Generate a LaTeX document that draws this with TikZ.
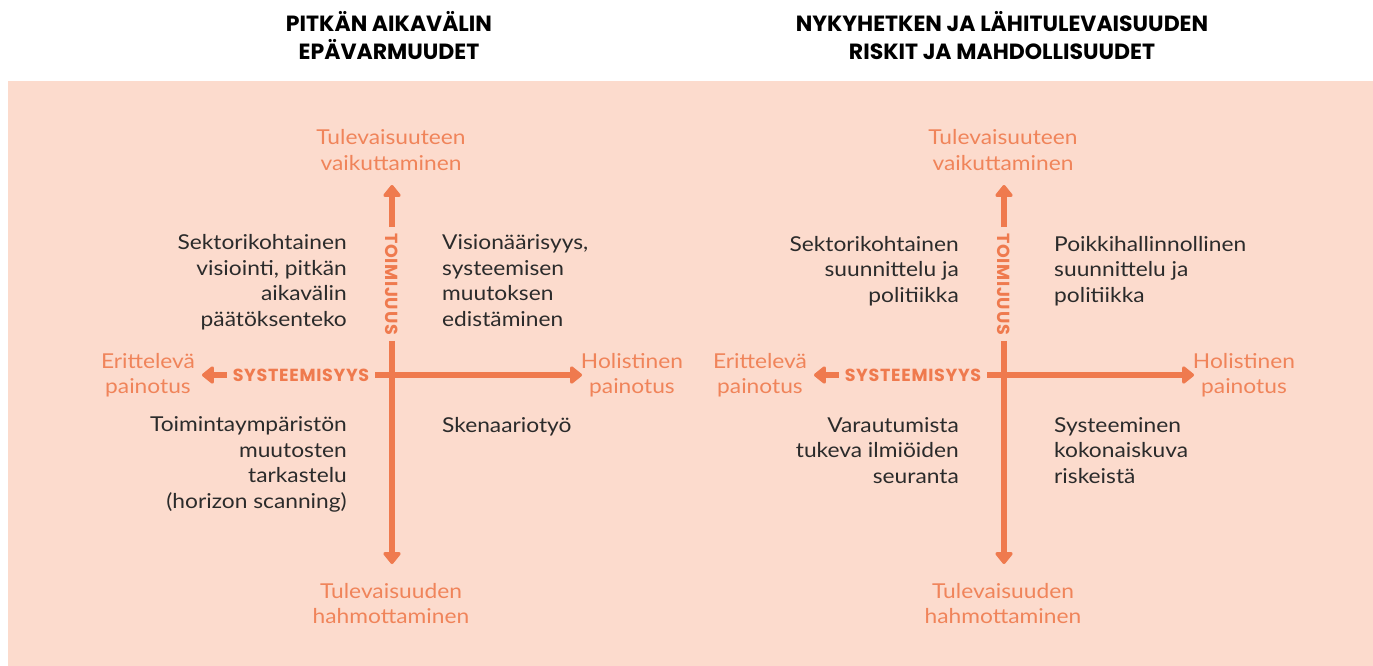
\documentclass[tikz,border=0pt]{standalone}
\usepackage{fontspec}
\setmainfont{Lato}[FakeStretch=1.11]
\newfontfamily\heavy{Poppins}
\newfontfamily\heavysp{Poppins}[LetterSpace=4]
\usetikzlibrary{arrows.meta}
\definecolor{bgc}{HTML}{FCDBCD}
\definecolor{arrowc}{HTML}{EF7A4E}
\definecolor{labc}{HTML}{F0845A}
\definecolor{txtc}{HTML}{2B2B2B}
\tikzset{
  title/.style={font=\heavy\bfseries\fontsize{22}{27.5}\selectfont, align=center, inner sep=0pt, anchor=base, text=black},
  lab/.style={font=\fontsize{20.5}{25}\selectfont, align=center, inner sep=0pt, anchor=base, text=labc},
  qr/.style={font=\fontsize{20.5}{25.5}\selectfont, align=right, inner sep=0pt, anchor=base east, text=txtc},
  ql/.style={font=\fontsize{20.5}{25.5}\selectfont, align=left, inner sep=0pt, anchor=base west, text=txtc},
  axl/.style={font=\heavysp\bfseries\fontsize{17.5}{20}\selectfont, inner sep=6pt, outer sep=0pt, text=arrowc},
  arr/.style={draw=arrowc, line width=6pt, -{Triangle[width=20pt,length=13pt,round]}}
}
\begin{document}
\begin{tikzpicture}[x=1pt,y=-1pt]
\useasboundingbox (0,0) rectangle (1373,666);
\fill[bgc] (8,81) rectangle (1373,666);
% ---------- left panel
\node[title] (ti1) at (389,59.5) {PITKÄN AIKAVÄLIN\\EPÄVARMUUDET};
\node[lab] (top1) at (391,170) {Tulevaisuuteen\\vaikuttaminen};
\node[lab] (bot1) at (391,623) {Tulevaisuuden\\hahmottaminen};
\node[lab] (lft1) at (148,393) {Erittelevä\\painotus};
\node[lab] (rgt1) at (632,393) {Holistinen\\painotus};
\node[qr] (qa1) at (347,326) {Sektorikohtainen\\visiointi, pitkän\\aikavälin\\päätöksenteko};
\node[ql] (qb1) at (442,326) {Visionäärisyys,\\systeemisen\\muutoksen\\edistäminen};
\node[qr] (qc1) at (347,508) {Toimintaympäristön\\muutosten\\tarkastelu\\(horizon scanning)};
\node[ql] (qd1) at (442,432) {Skenaariotyö};
\node[axl] (sys1) at (301,375) {SYSTEEMISYYS};
\node[axl, rotate=-90] (toi1) at (392,284) {TOIMIJUUS};
\coordinate (up1) at (392,185);
\coordinate (dn1) at (392,564);
\coordinate (lt1) at (202,375);
\coordinate (rt1) at (582,375);
\draw[arr] (toi1.west) -- (up1);
\draw[arr] (toi1.east) -- (dn1);
\draw[arr] (sys1.west) -- (lt1);
\draw[arr] (sys1.east) -- (rt1);
% ---------- right panel
\node[title] (ti2) at (1002,59.5) {NYKYHETKEN JA LÄHITULEVAISUUDEN\\RISKIT JA MAHDOLLISUUDET};
\node[lab] (top2) at (1003,170) {Tulevaisuuteen\\vaikuttaminen};
\node[lab] (bot2) at (1003,623) {Tulevaisuuden\\hahmottaminen};
\node[lab] (lft2) at (760,393) {Erittelevä\\painotus};
\node[lab] (rgt2) at (1244,393) {Holistinen\\painotus};
\node[qr] (qa2) at (959,302) {Sektorikohtainen\\suunnittelu ja\\politiikka};
\node[ql] (qb2) at (1054,302) {Poikkihallinnollinen\\suunnittelu ja\\politiikka};
\node[qr] (qc2) at (959,483) {Varautumista\\tukeva ilmiöiden\\seuranta};
\node[ql] (qd2) at (1054,483) {Systeeminen\\kokonaiskuva\\riskeistä};
\node[axl] (sys2) at (913,375) {SYSTEEMISYYS};
\node[axl, rotate=-90] (toi2) at (1004,284) {TOIMIJUUS};
\coordinate (up2) at (1004,185);
\coordinate (dn2) at (1004,564);
\coordinate (lt2) at (814,375);
\coordinate (rt2) at (1194,375);
\draw[arr] (toi2.west) -- (up2);
\draw[arr] (toi2.east) -- (dn2);
\draw[arr] (sys2.west) -- (lt2);
\draw[arr] (sys2.east) -- (rt2);
\end{tikzpicture}
\end{document}
